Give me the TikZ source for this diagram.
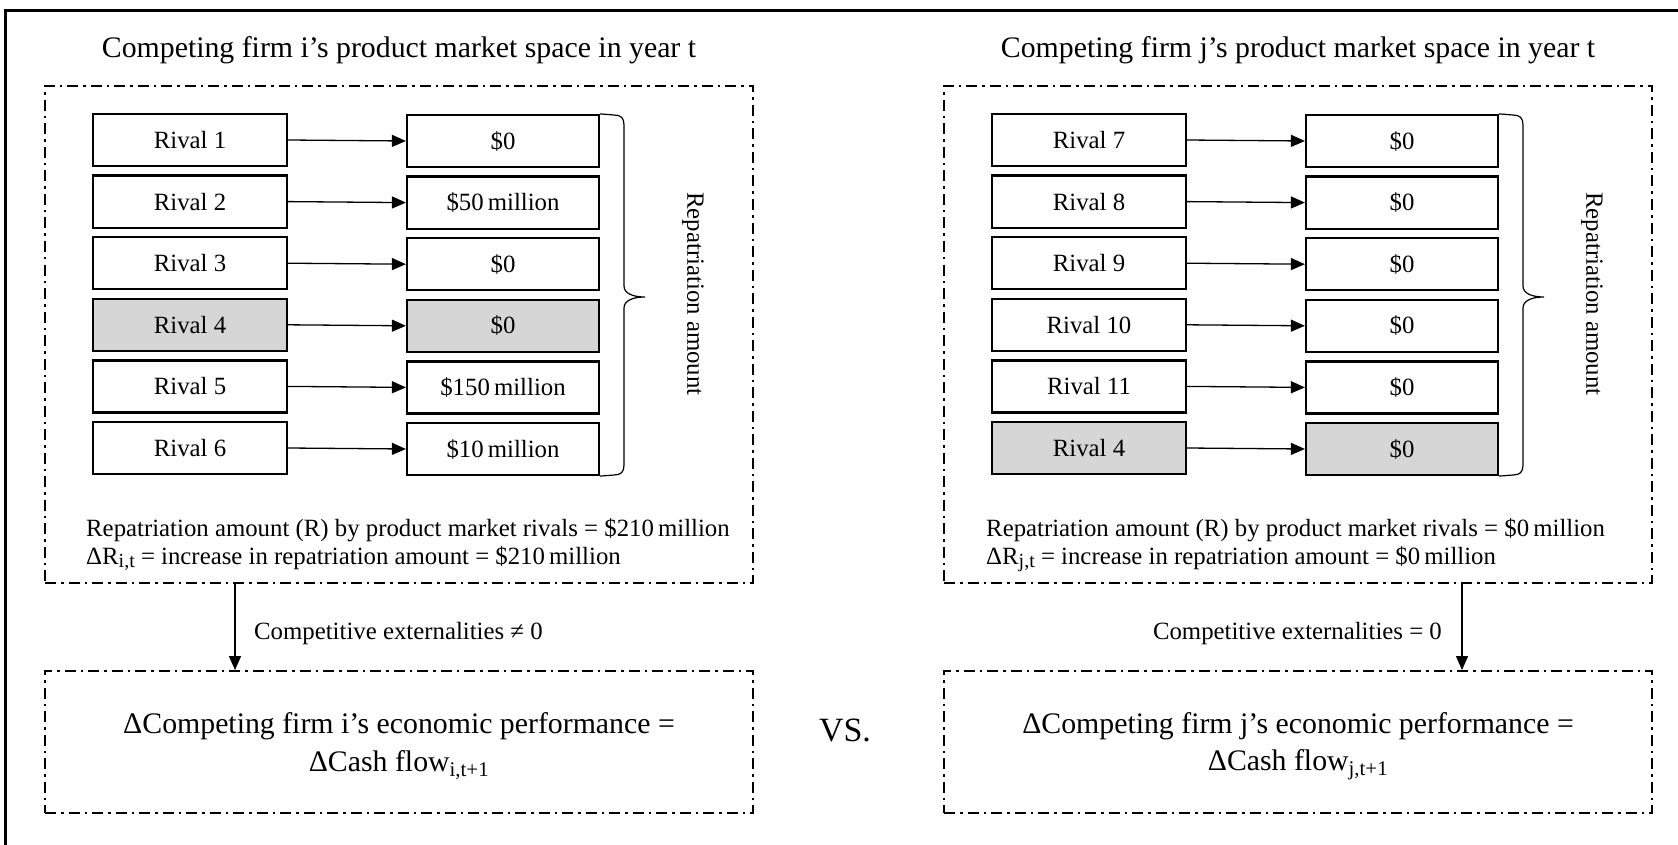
\documentclass[tikz,border=0pt]{standalone}
\usepackage{fontspec}
\setmainfont{Liberation Serif}
\usetikzlibrary{arrows.meta}
\newcommand\mysubR[1]{\raisebox{-3pt}{\fontsize{20}{20}\selectfont #1}}
\begin{document}
\begin{tikzpicture}[x=1pt,y=-1pt,
  txt/.style={inner sep=0pt,font=\fontsize{24.8}{28}\selectfont},
  bigtxt/.style={inner sep=0pt,font=\fontsize{29.8}{34}\selectfont},
  rbox/.style={draw,line width=2.2pt,minimum width=194pt,minimum height=52pt,inner sep=0pt,font=\fontsize{24.8}{28}\selectfont},
  vbox/.style={rbox,minimum width=192pt},
  ddbox/.style={draw,line width=1.9pt,dash pattern=on 11pt off 5pt on 2.5pt off 5pt,inner sep=0pt},
  conn/.style={line width=1.3pt,-{Triangle[length=14pt,width=12pt]}},
  bracestyle/.style={line width=1.2pt},
]
\useasboundingbox (0,0) rectangle (1678,845);
\draw[line width=3pt] (5,870) -- (5,11) -- (1700,11);

% ---------------- left panel ----------------
\node[bigtxt] (Lt) at (399,50) {Competing firm i’s product market space in year t};
\node[ddbox,minimum width=708pt,minimum height=497pt] (Lb) at (399,334.5) {};
\foreach \k/\lab/\val/\fl in {1/Rival 1/\$0/white,2/Rival 2/\$50\,million/white,3/Rival 3/\$0/white,4/Rival 4/\$0/gray!32,5/Rival 5/\$150\,million/white,6/Rival 6/\$10\,million/white}{
  \node[rbox,fill=\fl] (Lr\k) at (190,{140+61.6*(\k-1)}) {\lab};
  \node[vbox,fill=\fl] (Lv\k) at (503,{141+61.6*(\k-1)}) {\val};
  \draw[conn] (Lr\k.east) -- (Lv\k.west);
}
\draw[bracestyle] (Lv1.north east) -- (614,115) .. controls (621,115) and (624,118) .. (624,125) -- (624,286) .. controls (624,293) and (632,297) .. (645,297) .. controls (632,297) and (624,301) .. (624,308) -- (624,465) .. controls (624,472) and (621,475) .. (614,475) -- (Lv6.south east);
\node[txt,rotate=-90] (Lrep) at (693,294) {Repatriation amount};
\node[txt,anchor=west] (Ls1) at (86,530) {Repatriation amount (R) by product market rivals = \$210\,million};
\node[txt,anchor=west] (Ls2) at (86,559) {ΔR\mysubR{i,t} = increase in repatriation amount = \$210\,million};
\node[ddbox,minimum width=708pt,minimum height=142pt] (Lc) at (399,742) {};
\node[bigtxt] (Lp1) at (399,726) {ΔCompeting firm i’s economic performance =};
\node[bigtxt] (Lp2) at (399,765) {ΔCash flow\textsubscript{i,t+1}};
\coordinate (La) at (235,0);
\draw[conn] (Lb.south -| La) -- (Lc.north -| La);
\node[txt,anchor=west] (Le) at (254,634) {Competitive externalities ≠ 0};

\node[inner sep=0pt,font=\fontsize{34}{36}\selectfont] (vs) at (845,730) {VS.};

% ---------------- right panel ----------------
\begin{scope}[xshift=899pt]
\node[bigtxt] (Rt) at (399,50) {Competing firm j’s product market space in year t};
\node[ddbox,minimum width=708pt,minimum height=497pt] (Rb) at (399,334.5) {};
\foreach \k/\lab/\val/\fl in {1/Rival 7/\$0/white,2/Rival 8/\$0/white,3/Rival 9/\$0/white,4/Rival 10/\$0/white,5/Rival 11/\$0/white,6/Rival 4/\$0/gray!32}{
  \node[rbox,fill=\fl] (Rr\k) at (190,{140+61.6*(\k-1)}) {\lab};
  \node[vbox,fill=\fl] (Rv\k) at (503,{141+61.6*(\k-1)}) {\val};
  \draw[conn] (Rr\k.east) -- (Rv\k.west);
}
\draw[bracestyle] (Rv1.north east) -- (614,115) .. controls (621,115) and (624,118) .. (624,125) -- (624,286) .. controls (624,293) and (632,297) .. (645,297) .. controls (632,297) and (624,301) .. (624,308) -- (624,465) .. controls (624,472) and (621,475) .. (614,475) -- (Rv6.south east);
\node[txt,rotate=-90] (Rrep) at (693,294) {Repatriation amount};
\node[txt,anchor=west] (Rs1) at (87,530) {Repatriation amount (R) by product market rivals = \$0\,million};
\node[txt,anchor=west] (Rs2) at (87,559) {ΔR\mysubR{j,t} = increase in repatriation amount = \$0\,million};
\node[ddbox,minimum width=708pt,minimum height=142pt] (Rc) at (399,742) {};
\node[bigtxt] (Rp1) at (399,726) {ΔCompeting firm j’s economic performance =};
\node[bigtxt] (Rp2) at (399,765) {ΔCash flow\textsubscript{j,t+1}};
\coordinate (Ra) at (563,0);
\draw[conn] (Rb.south -| Ra) -- (Rc.north -| Ra);
\node[txt,anchor=east] (Re) at (543,634) {Competitive externalities = 0};
\end{scope}
\end{tikzpicture}
\end{document}
